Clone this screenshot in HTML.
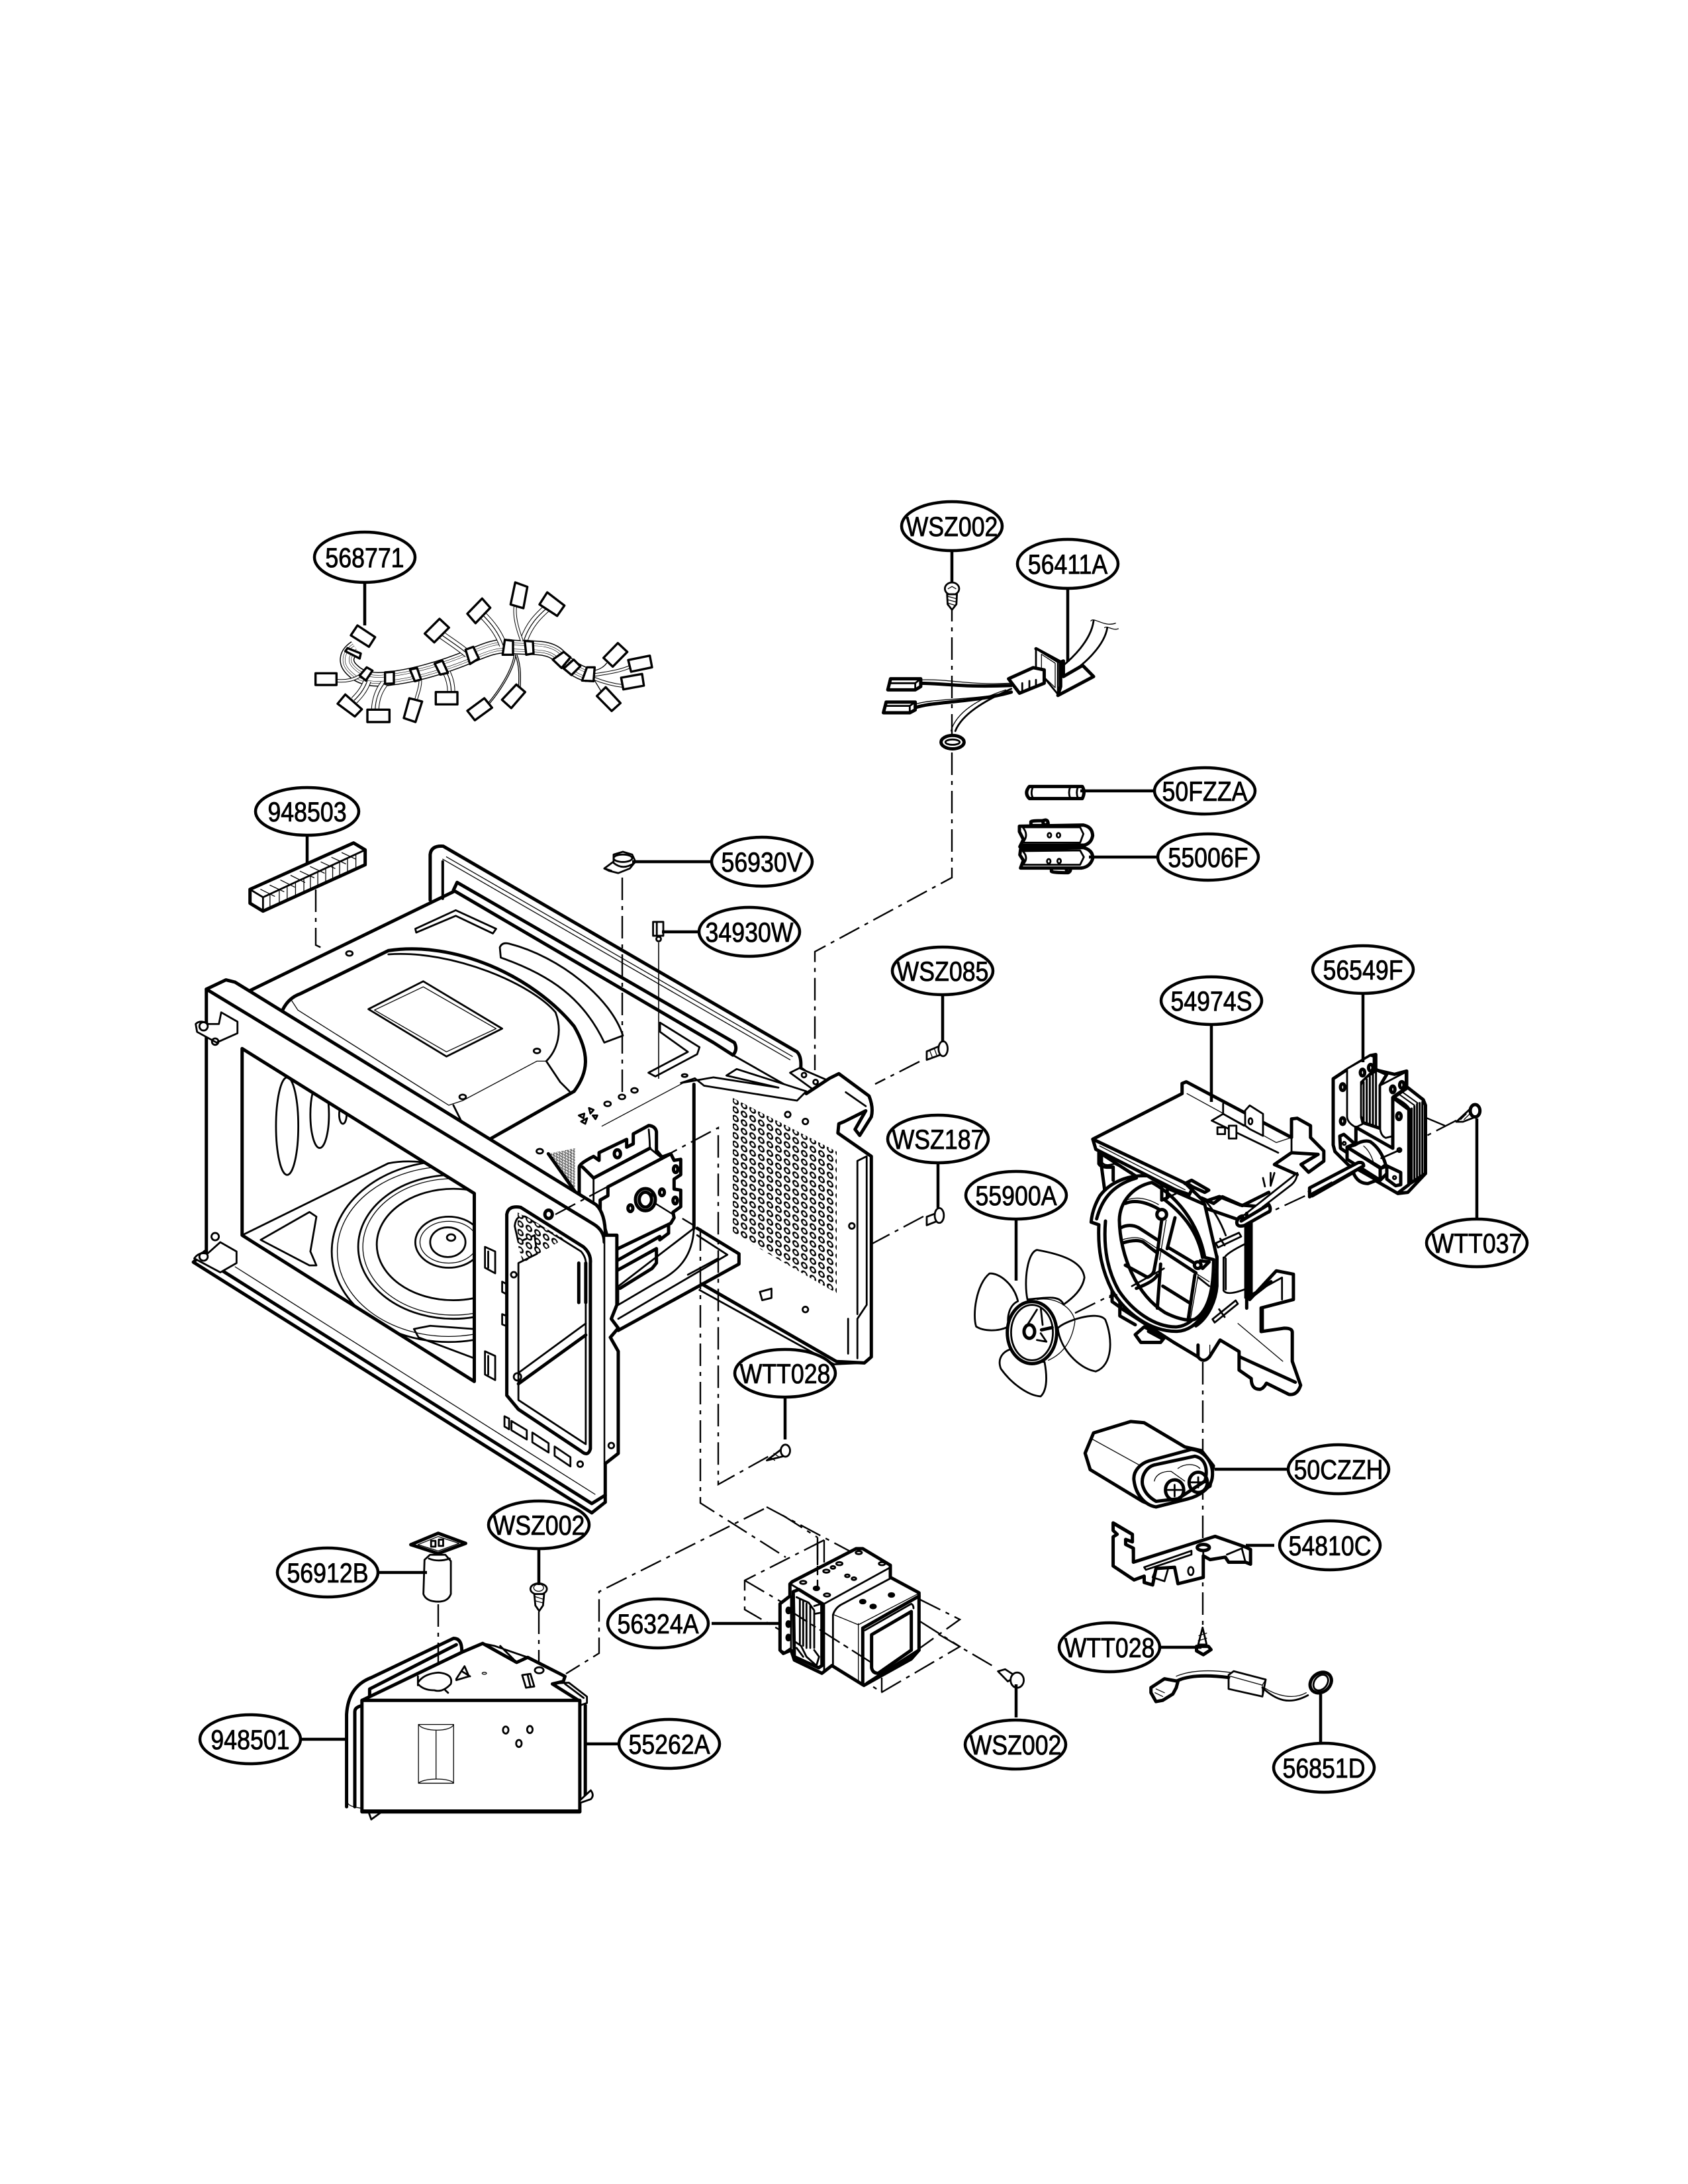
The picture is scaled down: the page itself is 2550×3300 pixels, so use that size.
<!DOCTYPE html>
<html><head><meta charset="utf-8"><style>
html,body{margin:0;padding:0;background:#fff}
svg{display:block}
svg *{vector-effect:non-scaling-stroke}
g.d{fill:none;stroke:#000;stroke-width:4;stroke-linejoin:round;stroke-linecap:round}
.m{stroke-width:2.8}.n{stroke-width:1.3}.h{stroke-width:5}
.w{fill:#fff}.b{fill:#000}
.c{fill:none;stroke:#000;stroke-width:2.4;stroke-dasharray:34 9 6 9}
.lb ellipse{fill:#fff;stroke:#000;stroke-width:4.5}
.lb path{fill:none;stroke:#000;stroke-width:4.5}
text{font:42px "Liberation Sans",sans-serif;fill:#000;stroke:#000;stroke-width:.8;text-anchor:middle;transform-box:fill-box;transform-origin:center;transform:scaleX(.85)}
</style></head><body>
<svg xmlns="http://www.w3.org/2000/svg" width="2550" height="3300" viewBox="0 0 2550 3300">
<defs>
<pattern id="p" width="13" height="13" patternUnits="userSpaceOnUse" patternTransform="skewY(27)"><circle cx="6" cy="6" r="3.8" fill="#fff" stroke="#000" stroke-width="2.4"/></pattern>
<clipPath id="win"><path d="M165,548L665,860V1265L165,950Z"/></clipPath>
</defs>
<rect width="2550" height="3300" fill="#fff"/>

<!-- CHASSIS back -->
<g class="d" transform="translate(250,1200) scale(.7015)">
<path class="h" d="M570,228V130Q572,110 598,112L1360,555Q1370,565 1368,590L1395,610"/>
<path class="n" d="M597,140L1345,572M605,135L1350,565"/>
<path d="M597,145V225"/>
<path class="h" d="M620,207L628,190L1225,535Q1233,550 1222,562L1180,535L620,207"/>
<path class="m" d="M1222,562L1345,632"/>
<path class="h" d="M178,425L620,210"/>
<path class="m w" d="M1345,600L1365,590L1430,618L1400,640Z"/>
<circle class="m" cx="1375" cy="605" r="5"/><circle class="m" cx="1400" cy="620" r="5"/>
<path class="m" d="M538,290L625,250L712,290L705,300L625,262L540,298Z"/>
<path class="h" d="M250,470Q262,440 290,430L480,337C620,315 790,390 880,500C915,560 910,600 880,640L695,745"/>
<path class="n" d="M272,445L285,465L610,670L640,660L800,575L820,575"/>
<path class="m" d="M480,345C620,335 790,410 840,470C855,510 845,550 820,575L850,620L870,640M620,670L640,710"/>
<path class="m" d="M437,463L555,403L725,505L605,565Z"/><path class="n" d="M450,465L555,415L712,505L605,555Z"/>
<path class="m w" d="M720,330Q725,318 740,322C850,350 960,440 985,520L945,535C900,440 830,390 722,352Z"/>
<path class="m" d="M1040,600L1125,555L1065,512V492L1150,545L1145,560L1055,608Z"/>
<ellipse class="m" cx="396" cy="343" rx="7" ry="5"/><ellipse class="m" cx="800" cy="553" rx="7" ry="5"/><ellipse class="m" cx="640" cy="652" rx="7" ry="5"/>
<ellipse class="m" cx="983" cy="652" rx="7" ry="5"/><ellipse class="m" cx="1010" cy="638" rx="7" ry="5"/><ellipse class="m" cx="952" cy="667" rx="7" ry="5"/><ellipse class="m" cx="806" cy="769" rx="7" ry="5"/><ellipse class="m" cx="1118" cy="606" rx="6" ry="3"/>
<path class="m" d="M890,692L902,688L900,698ZM912,676L922,680L915,688ZM920,692L930,692L926,700ZM895,705L908,698L904,710Z"/>
<path fill="#fff" stroke="none" d="M1140,625L1380,645L1430,612L1450,602L1515,650Q1525,675 1520,695L1495,735L1485,722L1508,682L1450,705L1448,730L1520,780V1212L1505,1225L1445,1222L1155,1055L1138,1000Z"/>
<path class="h" d="M1380,645L1430,612L1450,602L1515,650Q1525,675 1520,695L1495,735L1485,722L1508,682L1462,705L1450,710L1448,730L1520,780V1212L1505,1225L1445,1222"/>
<path class="m" d="M1465,642L1508,672M1490,790L1510,780V1100L1490,1130V1215M1490,790V1120M1470,1130V1205"/>
<path class="m w" d="M1110,622L1140,612L1160,628L1360,660L1380,640L1230,592L1208,606L1320,632L1180,610Z"/>
<path class="n" d="M1115,622L940,715"/>
<path class="h" d="M1138,625V935"/>
<path class="w m" d="M1138,935C1135,1000 1100,1030 1060,1050L975,1100V1060L1138,935"/>
<path class="h" d="M1145,935L1235,990V1012L975,1155"/>
<path class="m" d="M1145,950L1210,992L975,1130M1125,1035L1190,1000"/>
<path class="h" d="M1155,1055L1445,1222"/><path class="m" d="M1150,1068L1440,1228L1505,1225"/>
<path class="m w" d="M1280,1072L1305,1065V1085L1285,1090Z"/>
<circle class="m" cx="1340" cy="690" r="6"/><circle class="m" cx="1378" cy="705" r="6"/><circle class="m" cx="1478" cy="930" r="6"/><circle class="m" cx="1378" cy="1110" r="6"/>
</g>
<path fill="url(#p)" stroke="none" d="M1107,1659L1264,1740V1954L1107,1863Z"/>

<!-- MOTOR MOUNT -->
<g class="d" transform="translate(800,1660) scale(.33333)">
<path fill="url(#p)" stroke="none" d="M85,250L205,225V420Z"/>
<path class="h" d="M85,250L205,420"/>
<path class="h w" d="M225,450V310Q225,295 290,262L315,280V245L440,185V220L470,205V160L540,122Q570,125 575,150V235L600,265L640,250V500L320,520L225,450Z"/>
<path class="h" d="M240,310L290,360L545,225"/><path class="m" d="M540,140Q545,190 545,225L600,270M290,360V490M225,310L240,310"/>
<ellipse class="h" cx="398" cy="250" rx="14" ry="18"/>
<path class="h" d="M395,735L590,625M395,780L575,680V745L555,770L410,860M630,575V610L590,640"/>
<path class="h w" d="M320,510V460L355,440V400L640,250L655,280L685,275V345L655,365V410L685,415V490L650,515L655,540L640,565L390,685L395,620L355,635Q340,580 320,520Z"/>
<ellipse class="h w" cx="525" cy="458" rx="45" ry="50"/><ellipse class="h" cx="525" cy="458" rx="28" ry="34"/><path class="m" d="M555,430Q560,470 530,490"/>
<ellipse class="h" cx="457" cy="497" rx="11" ry="15"/><ellipse class="h" cx="600" cy="425" rx="11" ry="15"/><ellipse class="h" cx="662" cy="320" rx="10" ry="15"/><ellipse class="h" cx="660" cy="462" rx="10" ry="15"/>
<path class="m" d="M440,355L510,320M400,375L415,368"/>
<path class="c" d="M570,475L650,525M695,545L745,575"/>
</g>

<!-- FRONT FRAME -->
<g class="d" transform="translate(250,1200) scale(.7015)">
<path fill="#fff" stroke="none" fill-rule="evenodd" d="M88,420L130,400L150,405L927,884Q950,905 947,965V1525L918,1545L60,1008L88,985ZM165,548V950L665,1265V860Z"/>
<path class="h" d="M88,985V420L130,400L150,405L927,884Q950,905 947,965V1525"/>
<path class="h" d="M88,420L922,926Q945,940 945,965"/>
<path class="h" d="M165,548L665,860V1265L165,950Z"/>
<path class="h" d="M60,1008L85,985M60,1008L918,1548L947,1525M120,1025L918,1528L947,1510"/>
<path class="n" d="M150,1018L925,1508"/>
<path class="h w" d="M947,950L972,950V1100L960,1130L975,1150L958,1170L975,1200V1420L947,1442"/>
<path class="m w" d="M65,495Q75,485 92,495L115,495L120,470L155,490V515L110,535L68,512Z"/><circle class="m" cx="82" cy="500" r="9"/><circle class="m" cx="107" cy="533" r="7"/>
<path class="m w" d="M62,1000Q72,985 90,990L118,965L153,985V1010L118,1030Z"/><circle class="m" cx="82" cy="996" r="9"/><circle class="m" cx="107" cy="953" r="8"/>
<g clip-path="url(#win)">
<ellipse class="m" cx="262" cy="715" rx="24" ry="105"/><ellipse class="m" cx="332" cy="690" rx="20" ry="72"/><ellipse class="m" cx="382" cy="690" rx="8" ry="20"/>
<path class="m" d="M165,950L480,795Q530,785 600,800"/>
<path class="m" d="M205,960L310,900L325,910L312,985L325,1015L310,1015Z"/>
<ellipse class="m" cx="610" cy="985" rx="252" ry="195"/><ellipse class="n" cx="610" cy="985" rx="240" ry="183"/>
<ellipse class="m" cx="620" cy="975" rx="205" ry="155"/><ellipse class="n" cx="620" cy="975" rx="195" ry="147"/>
<ellipse class="m" cx="620" cy="970" rx="165" ry="120"/><ellipse class="m" cx="610" cy="965" rx="72" ry="55"/><ellipse class="n" cx="610" cy="965" rx="62" ry="45"/><ellipse class="m" cx="608" cy="965" rx="38" ry="32"/><ellipse class="m" cx="615" cy="955" rx="9" ry="7"/>
<path class="m" d="M535,1152L570,1145L665,1152V1215L545,1170Z"/>
</g>
<path class="m" d="M688,975L710,985V1032L688,1020ZM695,985V1020"/>
<path class="m" d="M688,1200L710,1210V1262L688,1250ZM695,1210V1250"/>
<path class="m" d="M725,1050L740,1058V1080L725,1072ZM725,1120L745,1128V1150L725,1142Z"/>
<path class="h w" d="M735,905Q738,885 765,890L900,975Q917,990 915,1010V1410Q910,1428 895,1415L760,1325L735,1295Z"/>
<path class="m" d="M752,930Q755,905 775,910L895,985Q908,1000 905,1020V1400L760,1305V1010L800,990L795,950L760,965Z"/>
<path class="h" d="M760,1270L905,1165"/><path class="m" d="M762,1245L905,1140"/>
<path class="h" d="M890,1010V1095M905,1010V1095"/>
<path class="m" d="M730,1340V1362L740,1368V1345ZM745,1350L778,1370V1390L745,1370ZM790,1375L825,1398V1418L790,1396ZM838,1405L872,1428V1448L838,1425Z"/>
<circle class="m" cx="750" cy="1035" r="6"/><circle class="m" cx="758" cy="1255" r="8"/><circle class="m" cx="893" cy="1443" r="6"/><circle class="m" cx="960" cy="1403" r="6"/><ellipse class="h" cx="825" cy="905" rx="8" ry="9"/>
</g>
<path fill="url(#p)" stroke="none" d="M782,1832L852,1872L790,1908L782,1880Z"/>

<!-- CONNECTORS -->
<path class="c" d="M477,1344V1428L492,1435"/>
<path class="c" d="M940,1326V1656"/>
<path class="c" style="stroke-dasharray:none;stroke-width:1.6" d="M995,1424V1630"/>
<path class="c" d="M1438,905V1326L1231,1438V1617"/>
<path class="c" d="M1389,1604L1322,1638"/>
<path class="c" d="M1395,1838L1316,1880"/>
<path class="c" d="M839,1835L1085,1704V2243L1162,2200"/>
<path class="c" d="M1058,1856V2271L1187,2353"/>
<path class="c" d="M1154,2280L905,2405V2498L855,2529"/>
<path class="c" d="M1158,2277L1286,2345"/>
<path class="c" d="M1245,2327L1125,2388V2432L1187,2468M1125,2388L1183,2422M1245,2327V2365M1235,2323V2400M1183,2290L1235,2323"/>
<path class="c" d="M1390,2417L1450,2447L1390,2490M1390,2450L1450,2488L1332,2557L1310,2543M1332,2535V2557"/>
<path class="c" d="M1240,2463L1320,2518M1419,2470L1506,2521"/>
<path class="c" d="M662,2424V2533"/>
<path class="c" d="M814,2435V2552L851,2533"/>
<path class="c" d="M1817,2058V2456"/>
<path class="c" d="M1624,1984L1767,1913"/>
<path class="c" d="M1888,1846L1980,1803"/>
<path class="c" d="M2200,1693L2095,1747"/>
<path class="c" d="M2152,1688L2183,1701"/>

<g class="d" transform="translate(250,1200) scale(.7015)">
<path class="m w" d="M182,205L405,105L430,120V152L210,252L182,235Z"/><path class="m" d="M182,205L210,222L430,120M210,222V252"/>
<path class="n" d="M225,215V245M245,206V236M262,198V228M280,190V220M298,182V212M312,176V206M328,168V198M345,160V190M360,153V183M375,146V176M392,138V168M410,130V160M205,205L235,220M225,196L255,210M248,185L278,200M270,175L300,190M290,166L320,180M312,156L342,170M335,146L365,160M358,136L388,150M380,126L410,140"/>
<path class="h" d="M182,205V235L210,252L430,152V120L405,105Z"/>
<path class="m w" d="M945,160L965,145V130L985,124L1005,130L1012,145L1000,160L975,170L955,165Z"/><ellipse class="m" cx="985" cy="138" rx="20" ry="8"/><path class="m" d="M965,148Q985,165 1010,148M945,160L960,165"/>
<path class="m w" d="M1050,275L1072,275V305L1050,305Z"/><path class="m" d="M1058,275V305"/><circle class="m" cx="1062" cy="312" r="5"/>
<path class="m w" d="M1295,1435L1325,1412L1335,1425Z"/><path class="n" d="M1302,1428L1312,1435M1310,1420L1322,1428"/><ellipse class="m w" cx="1335" cy="1414" rx="10" ry="13"/>
</g>

<!-- HARNESS -->
<g class="d" transform="translate(480,900) scale(.33333)" style="stroke-linecap:butt">
<path style="stroke-width:22" d="M170,235C125,265 120,305 160,340C200,380 260,385 330,375C420,365 560,330 690,275C760,245 820,220 880,232C960,240 1040,225 1090,270C1130,310 1170,345 1225,360"/>
<path style="stroke-width:19;stroke:#fff" d="M170,235C125,265 120,305 160,340C200,380 260,385 330,375C420,365 560,330 690,275C760,245 820,220 880,232C960,240 1040,225 1090,270C1130,310 1170,345 1225,360"/>
<path style="stroke-width:13" d="M170,235C125,265 120,305 160,340C200,380 260,385 330,375C420,365 560,330 690,275C760,245 820,220 880,232C960,240 1040,225 1090,270C1130,310 1170,345 1225,360"/>
<path style="stroke-width:11.8;stroke:#fff" d="M170,235C125,265 120,305 160,340C200,380 260,385 330,375C420,365 560,330 690,275C760,245 820,220 880,232C960,240 1040,225 1090,270C1130,310 1170,345 1225,360"/>
<path style="stroke-width:6.6" d="M170,235C125,265 120,305 160,340C200,380 260,385 330,375C420,365 560,330 690,275C760,245 820,220 880,232C960,240 1040,225 1090,270C1130,310 1170,345 1225,360"/>
<path style="stroke-width:5.4;stroke:#fff" d="M170,235C125,265 120,305 160,340C200,380 260,385 330,375C420,365 560,330 690,275C760,245 820,220 880,232C960,240 1040,225 1090,270C1130,310 1170,345 1225,360"/>
<g style="stroke-width:12"><path d="M225,385C210,430 180,460 165,475M300,400C270,440 262,480 260,517M585,350C600,380 605,410 605,437M680,265C640,230 590,200 550,170M840,225C820,170 790,130 745,85M935,200C960,130 1000,90 1040,55"/></g>
<g style="stroke-width:10;stroke:#fff"><path d="M225,385C210,430 180,460 165,475M300,400C270,440 262,480 260,517M585,350C600,380 605,410 605,437M680,265C640,230 590,200 550,170M840,225C820,170 790,130 745,85M935,200C960,130 1000,90 1040,55"/></g>
<g style="stroke-width:1.2"><path d="M225,385C210,430 180,460 165,475M300,400C270,440 262,480 260,517M585,350C600,380 605,410 605,437M680,265C640,230 590,200 550,170M840,225C820,170 790,130 745,85M935,200C960,130 1000,90 1040,55"/></g>
<g style="stroke-width:5"><path d="M465,385C465,420 450,450 445,475M925,205C905,150 890,100 895,50M85,385C130,390 170,380 195,360M1250,360C1320,350 1380,340 1420,320M1250,375C1300,395 1340,405 1385,410"/></g>
<g style="stroke-width:3;stroke:#fff"><path d="M465,385C465,420 450,450 445,475M925,205C905,150 890,100 895,50M85,385C130,390 170,380 195,360M1250,360C1320,350 1380,340 1420,320M1250,375C1300,395 1340,405 1385,410"/></g>
<path class="n" d="M890,268C880,340 820,430 770,490M898,268C888,340 825,435 778,490M895,268C915,320 912,370 910,420M903,268C922,320 920,370 918,415M1250,340C1280,335 1300,320 1310,305M1255,385L1285,435"/>
<path class="m w" style="stroke-width:3.4" d="M135,238L195,262L190,285L125,252ZM222,325L248,340L218,385L190,362ZM305,348L345,345V398L305,400ZM418,335L450,328L468,380L440,388ZM530,308L565,295L590,350L555,358ZM670,245L705,232L730,285L690,310ZM848,200L885,205V268H838ZM938,205L975,208L978,262L945,268ZM1065,290L1115,255L1145,280L1105,328ZM1115,330L1160,290L1190,320L1150,360ZM1220,325L1255,325L1250,388L1198,385Z"/>
<path class="m w" style="stroke-width:3.4" d="M150,180L180,135L260,188L232,232ZM-10,352H85V405H-10ZM90,490L125,448L200,515L168,548ZM225,517H325V573H225ZM415,465L473,480L443,573L390,555ZM535,437H633V493H535ZM485,172L552,105L595,145L528,212ZM678,82L745,13L782,55L715,125ZM678,522L755,465L790,508L712,565ZM835,472L900,403L940,437L877,510ZM1295,282L1360,215L1403,255L1337,322ZM1407,292L1505,272L1515,325L1420,345ZM1375,372L1470,355L1478,408L1385,425ZM1265,455L1305,415L1372,487L1332,523ZM874,40L932,57L950,-40L895,-60ZM1005,40L1085,92L1118,45L1040,-15Z"/>
</g>

<!-- 56411A etc -->
<g class="d" transform="translate(450,740) scale(.829,.336)">
<ellipse class="m w" cx="1192" cy="445" rx="13" ry="28"/><path class="n" d="M1185,445L1192,435L1199,445"/>
<path class="m w" d="M1183,470H1201L1200,515L1192,540L1184,515Z"/><path class="n" d="M1185,480L1200,490M1185,495L1200,505M1185,510L1198,520"/>
<path class="m" d="M1450,590C1445,680 1410,760 1390,800M1475,620C1470,700 1430,800 1395,840"/>
<path class="n" d="M1445,590C1450,570 1470,620 1490,600M1470,620C1475,610 1485,635 1495,625"/>
<path class="h w" d="M1345,715L1390,775V885L1385,925L1450,840L1430,790L1395,840V770L1390,775"/>
<path class="m w" d="M1345,715V800L1385,920V775Z"/><path class="n" d="M1355,740L1380,780V890L1355,830Z"/>
<path class="h w" d="M1295,850L1340,800L1360,810V870L1315,915Z"/>
<path class="m" d="M1320,870V910M1333,860V900M1345,855V885"/>
<path class="h" d="M1130,870C1180,870 1210,890 1300,880"/><path class="n" d="M1135,855C1190,850 1220,880 1300,870"/>
<path class="h" d="M1120,985C1150,950 1230,960 1300,910"/><path class="n" d="M1125,965C1150,940 1230,945 1290,915"/>
<path class="m" d="M1300,895C1250,950 1210,1010 1198,1085"/><path class="n" d="M1290,900C1240,940 1200,1000 1190,1085"/>
<path class="h w" d="M1080,850H1135V885L1125,900H1075Z"/><path class="m" d="M1080,870H1125V900M1125,870L1135,850"/>
<path class="h w" d="M1072,955H1125V990L1115,1003H1067Z"/><path class="m" d="M1072,972H1115V1003M1115,972L1125,955"/>
<ellipse class="h w" cx="1193" cy="1135" rx="21" ry="30"/><ellipse class="m" cx="1193" cy="1135" rx="13" ry="12"/>
</g>

<!-- FUSE + HOLDER -->
<g class="d" transform="translate(1500,1160) scale(.33333)">
<path class="h w" d="M165,85H405Q420,110 405,140H165Q140,115 165,85Z"/>
<path class="m" d="M180,90Q170,115 180,135M350,88Q340,112 350,138M385,88Q375,112 385,138"/>
<path class="h w" d="M172,262V245Q175,240 225,240Q240,235 250,250L250,262Z"/><circle class="h w" cx="238" cy="248" r="11"/>
<path class="h w" d="M265,455V470Q270,476 340,476Q355,470 350,455Z"/><circle class="h w" cx="342" cy="462" r="9"/>
<path class="h w" d="M120,265L410,260Q450,268 452,308Q445,345 410,352L125,352L138,325L120,290Z"/>
<path class="h w" d="M125,372L410,362Q455,375 452,412Q440,450 400,455H125L138,420L122,395Z"/>
<path style="stroke-width:7" d="M125,358L410,354"/>
<path class="m" d="M135,270H395L410,300L395,340H135Q165,305 135,270ZM135,378L395,375L412,405L395,440H135Q165,410 135,378Z"/>
<ellipse class="m" cx="256" cy="306" rx="8" ry="10"/><ellipse class="m" cx="297" cy="306" rx="8" ry="10"/><ellipse class="m" cx="253" cy="424" rx="8" ry="10"/><ellipse class="m" cx="300" cy="423" rx="8" ry="10"/>
</g>

<!-- FAN BRACKET / FAN -->
<g class="d" transform="translate(1400,1400) scale(.574,.51)">
<path class="m w" d="M0,370L38,352L48,375L0,395Z"/><path class="n" d="M8,368L14,385M20,362L26,380"/><ellipse class="m w" cx="43" cy="362" rx="12" ry="22"/>
<path class="m w" d="M0,860L28,848L38,868L0,885Z"/><ellipse class="m w" cx="33" cy="856" rx="12" ry="22"/>
<path class="h w" d="M850,880V1105L920,1020L965,1030V1105L880,1130V1200L941,1190Q962,1190 962,1202V1288L984,1359Q975,1390 953,1386L894,1353Q885,1371 876,1371Q854,1371 854,1339L822,1314V1259L772,1225L744,1275Q728,1295 714,1275L650,1232L510,1130L455,670L620,790Z"/>
<path class="m" d="M838,885V1100L935,1040V1105M885,1135V1200"/>
<path class="n" d="M819,1176L937,1288"/>
<path class="h" d="M824,1275L970,1350"/>
<path class="h" d="M714,1240V1275"/><path class="n" d="M745,1240V1272"/>
<path class="h w" d="M437,630L672,495V465L683,460L960,625V570L975,568L1010,590V625L1045,665V695L1005,728L985,705L1030,675L960,670L915,705L975,735L930,780L880,830L825,825L770,800L730,815L680,760L437,630Z"/>
<path class="h" d="M437,630L445,660L690,800"/>
<path class="n" d="M685,495L920,640L960,625M455,650L680,780"/>
<path class="m" d="M780,525V555L750,575L925,670M780,555L835,590M960,625V665"/>
<path class="m w" d="M838,545L850,530L885,555V620L850,600L838,590Z"/><ellipse class="m" cx="852" cy="577" rx="5" ry="9"/>
<path class="m w" d="M765,595H785V615H765ZM795,590H815V628H795Z"/>
<path class="m" d="M885,745L890,770M905,730V768L915,730"/>
<path class="m w" d="M835,855L975,730Q975,750 960,765L885,830L840,875Q820,890 815,870Q820,855 835,855Z"/>
<path class="m w" d="M265,1105C255,1050 265,965 290,958C350,970 410,990 415,1040C410,1075 385,1100 360,1120C350,1090 310,1100 265,1105Z"/>
<path class="m w" d="M240,1110C230,1060 190,1025 165,1028C130,1060 120,1150 130,1185C150,1200 190,1200 215,1185C210,1150 220,1120 240,1110Z"/>
<path class="m w" d="M345,1190C360,1170 450,1135 470,1165C490,1220 490,1300 445,1318C400,1310 350,1250 345,1190Z"/>
<path class="m w" d="M230,1250C200,1255 185,1280 195,1310C220,1350 265,1390 300,1392C320,1370 315,1320 310,1290C285,1290 250,1280 230,1250Z"/>
<ellipse class="h w" cx="277" cy="1203" rx="65" ry="92"/><ellipse class="m" cx="277" cy="1203" rx="55" ry="82"/>
<path class="n" d="M290,1105C340,1095 385,1130 390,1170C385,1210 370,1260 320,1285"/>
<ellipse class="h" cx="270" cy="1200" rx="14" ry="20"/><path class="h" d="M302,1195L330,1188"/><path class="m" d="M290,1135L265,1180M300,1130L305,1180M290,1225L315,1230L300,1205"/>
<path class="m w" d="M1005,785L1130,700L1148,705L1140,720L1015,800Z"/>
</g>

<!-- RING -->
<g class="d" transform="translate(1620,1730) scale(.33333)">
<path class="h w" d="M85,350Q90,290 125,230C170,170 250,135 340,140L440,200L600,270L655,510C660,720 570,845 470,845C350,845 240,760 180,660C130,560 115,470 120,362Z"/>
<path class="h" d="M120,35V85Q130,105 185,100V160"/>
<path class="m" d="M135,40V80Q150,100 190,85L270,125"/>
<path class="h" d="M110,335C130,260 170,185 290,150M150,345C140,470 160,570 210,660C270,750 370,825 470,825C560,820 640,700 635,530"/>
<path class="h w" d="M360,170C270,190 215,260 213,340C215,500 290,680 420,760C480,790 530,800 555,790C620,750 640,650 640,520L600,510C570,350 470,230 360,170Z"/>
<path class="h" d="M420,250C510,320 570,400 590,510"/>
<path class="h" d="M405,185V250L430,240M430,205V240"/><path class="m" d="M430,240L470,220"/>
<path class="h" d="M240,265Q300,240 390,290M220,375Q260,355 300,375L385,430M225,445Q290,425 320,440L385,490"/>
<path class="n" d="M245,250Q310,225 390,270M225,430Q290,410 325,430L400,480"/>
<path class="h" d="M405,340L385,490L370,570Q365,590 340,600M465,330L430,470M435,465L560,540M400,540L385,740M410,640L530,715M240,545L340,600M555,590L525,790M400,475L560,580M290,650Q370,620 385,590"/>
<path class="n" d="M425,340L395,520M400,480L620,620M570,590L535,790M300,640Q380,610 395,580"/>
<path class="m" d="M415,560L270,640M200,680L170,690"/>
<path class="m" d="M570,600L620,640"/>
<circle class="h w" cx="405" cy="315" r="22"/>
<circle class="h w" cx="568" cy="545" r="15"/><path class="h" d="M580,525L620,530L590,560"/>
<path class="m" d="M590,240C650,300 680,370 695,410"/>
<path class="h" d="M510,175L540,160L618,205L600,215L545,190L530,180ZM545,195L530,225L430,190"/>
<path class="h" d="M585,240L640,265L680,235L770,275L890,215"/>
<path class="m w" d="M650,445L755,398L765,415L660,465Z"/><path class="m" d="M670,425L690,455"/>
<path class="m w" d="M635,790L740,705L750,720L645,805Z"/><path class="m" d="M665,745L690,780"/>
<path class="m" d="M690,510Q700,490 780,450M685,510V660Q700,685 780,655M695,515V655"/>
<path class="h" d="M790,310V740M810,350V690L900,620"/>
<path class="h" d="M655,505V640C650,700 620,780 560,820"/>
<path class="h w" d="M285,860L325,825L420,870L400,895L310,895Z"/><path class="h" d="M345,845L410,880"/>
<path class="h" d="M180,660V710L215,735V775L285,815"/>
<path class="h w" d="M765,345L890,270Q900,285 895,300L780,365Q745,375 745,350Q750,325 775,330"/>
</g>

<!-- TRANSFORMER -->
<g class="d" transform="translate(1980,1560) scale(.33333)">
<path class="h w" d="M102,210L170,165L270,105L295,100V170L380,190L435,175V250L510,305L520,330V640L440,725L395,730L170,600L110,540L102,510Z"/>
<path class="h w" d="M225,240Q230,215 260,195L300,170L345,190L315,240V435L240,410L225,380Z"/>
<path d="M240,225V405M254,212V412M268,200V418M282,190V424M296,180V430" style="stroke-width:3"/>
<path class="m w" d="M165,165L270,105L285,110V170L228,225V385L235,415L205,430Q165,410 165,380Z"/>
<path class="m w" d="M315,240L430,180V250L372,290V470L340,478Q320,470 315,440Z"/>
<path class="h w" d="M375,295L440,250L510,305L520,330V640L450,685V360Q445,330 375,295Z"/>
<path d="M458,345V670M470,335V665M482,325V655M494,320V650M506,315V645" style="stroke-width:3"/>
<path d="M385,295L450,345M400,280L470,330M415,270L485,320" style="stroke-width:2"/>
<path class="h" d="M372,295V525L205,430V500M372,295L445,350V690L395,728"/>
<ellipse class="h" cx="235" cy="182" rx="10" ry="15"/><ellipse class="h" cx="272" cy="160" rx="10" ry="15"/><ellipse class="h" cx="145" cy="248" rx="10" ry="15"/><ellipse class="h" cx="145" cy="402" rx="10" ry="15"/><ellipse class="h" cx="372" cy="258" rx="10" ry="15"/><ellipse class="h" cx="413" cy="238" rx="10" ry="15"/><ellipse class="h" cx="400" cy="380" rx="10" ry="15"/>
<path class="h w" d="M132,470L150,462L200,505L165,520V545L135,525Z"/><circle class="m" cx="152" cy="503" r="7"/>
<path class="h w" d="M195,640Q215,685 260,685L300,670L195,610Z"/>
<path class="h w" d="M165,520L200,510Q240,485 270,495Q320,530 340,600L320,615Z"/><path class="n" d="M240,515Q270,540 285,590"/>
<path class="h w" d="M165,520V575L315,670V615ZM315,670L345,640V605L320,615"/>
<path class="h w" d="M345,605L408,635V690L385,695L345,665Z"/><circle class="m" cx="380" cy="658" r="7"/>
<path class="h w" d="M-5,705L215,590Q240,585 240,605L-5,745Z"/><path class="m" d="M-5,735L95,680"/>
<path class="m" d="M320,570L410,530"/><circle class="m" cx="402" cy="533" r="9"/>
<path class="m w" d="M660,405L735,335L755,380L690,405Z"/><path class="n" d="M680,395L705,370M695,395L725,365M670,400L695,375"/>
<ellipse class="h w" cx="745" cy="355" rx="22" ry="28"/>
</g>

<!-- LOWER RIGHT -->
<g class="d" transform="translate(1550,2100) scale(.51,.383)">
<path class="h w" d="M200,170L310,125L350,130L470,225L520,240L555,300L545,380L480,430L385,462L345,440L190,315L175,250Z"/>
<path class="n" d="M190,190L340,300"/>
<path class="h w" d="M320,360C315,320 340,290 365,280L490,235C530,240 555,290 552,340C550,390 510,420 480,430L385,462C350,455 325,410 320,360Z"/>
<path class="h" d="M345,375C340,335 360,300 385,295L500,262C530,270 540,310 530,360L450,430L385,440C360,420 350,400 345,375Z"/>
<path class="n" d="M380,360C385,330 410,320 430,322L470,360M450,310C470,290 500,290 515,310"/>
<ellipse class="h" cx="440" cy="395" rx="27" ry="40"/><ellipse class="h" cx="510" cy="365" rx="27" ry="40"/>
<path class="m" d="M420,395L460,395M440,375V420M490,365H530M510,345V385"/>
<path class="h w" d="M258,525L315,570V600L295,590V610L318,625V680L560,578L650,620L665,630V688L650,680L600,680L590,660L545,670L525,655V740L450,765L440,700L385,705L375,770L350,760V735L320,750L258,695V580L270,570L258,555Z"/>
<path class="m" d="M265,535L310,570M318,680L315,620M350,700L490,635V650L355,710ZM525,655V620M640,630L650,680M595,650L640,625"/>
<path class="m" d="M385,705L375,740L410,755L420,710"/>
<ellipse class="m" cx="488" cy="715" rx="8" ry="16"/><ellipse class="h w" cx="525" cy="622" rx="18" ry="12"/>
<path class="m w" d="M523,938L510,1005H535Z"/><path class="n" d="M512,970L535,960M510,990L535,980"/>
<path class="h w" d="M505,1012H540L548,1025L525,1045L505,1030Z"/>
<path class="m w" d="M600,1125L615,1110L710,1143L700,1210L600,1180Z"/><path class="n" d="M605,1130L700,1165L710,1143M700,1165V1210"/>
<path class="h" d="M445,1150C480,1125 540,1125 600,1135"/><path class="n" d="M445,1130C490,1105 550,1105 605,1115"/>
<path class="m" d="M700,1175C740,1225 780,1245 835,1205"/><path class="n" d="M705,1175C740,1205 790,1225 830,1195"/>
<path class="h w" d="M370,1175L410,1140L450,1150L445,1175L435,1200L405,1225L385,1230L370,1195Z"/><path class="n" d="M385,1180L410,1195M382,1195L405,1210"/>
<ellipse class="h w" cx="873" cy="1155" rx="30" ry="42" transform="rotate(20 873 1155)"/><ellipse class="m" cx="873" cy="1155" rx="20" ry="32" transform="rotate(20 873 1155)"/>
</g>

<!-- LOWER LEFT -->
<g class="d" transform="translate(250,2200) scale(.829,.3827)">
<path class="m w" d="M472,410L482,390L510,390L520,415V545Q515,575 497,575Q475,575 470,545Z"/><path class="m" d="M480,405Q497,420 518,405"/>
<path class="h w" d="M447,350L497,305L547,345L497,385Z"/><path class="n" d="M460,350L497,318L535,345L497,375Z"/><path class="m" d="M484,335H492V358H484ZM498,330H506V355H498Z"/>
<ellipse class="m w" cx="680" cy="525" rx="15" ry="22"/><ellipse class="n" cx="680" cy="520" rx="9" ry="14"/>
<path class="m w" d="M672,545H690L688,590L681,612L674,590Z"/><path class="n" d="M673,555L688,565M674,572L688,580"/>
<path class="h" d="M330,1385V1020C332,950 345,900 375,875L525,720Q540,720 540,770"/>
<path class="h" d="M345,1385V1010Q345,990 360,985L372,965V920L530,745"/>
<path class="n" d="M332,1370Q335,1385 355,1390"/>
<path class="h w" d="M358,965L540,775L578,740L640,815L660,795L728,870L725,890L705,900L755,968Z"/>
<path class="m" d="M578,740L600,750L660,795M610,750L640,815M705,898L735,895L768,950V975L755,985"/>
<path class="m" d="M728,900L762,955"/>
<path class="h w" d="M358,965H755V1405H358Z"/>
<path class="h" d="M358,1402H755"/>
<path class="h" d="M765,985V1340"/><path class="m w" d="M755,1360L775,1320Q782,1340 775,1355L755,1370Z"/>
<path class="m" d="M370,1405L375,1435L392,1408"/>
<path class="n" d="M461,1060H525V1292H461ZM461,1060C470,1090 520,1090 525,1060M461,1292C470,1270 520,1270 525,1292M493,1085V1275"/>
<ellipse class="m" cx="620" cy="1082" rx="5" ry="14"/><ellipse class="m" cx="664" cy="1080" rx="5" ry="14"/><ellipse class="m" cx="644" cy="1135" rx="5" ry="14"/>
<path class="m" d="M460,895Q470,860 497,855Q525,860 520,900Q505,935 490,925Q470,925 460,900M460,870V905M510,925L515,935"/>
<path class="m" d="M530,880L545,830L553,870L530,885ZM540,850L555,870"/>
<circle class="n" cx="581" cy="858" r="4"/><ellipse class="m" cx="681" cy="846" rx="8" ry="12"/>
<path class="m" d="M650,865L665,860L672,910L657,915ZM660,865L665,910"/>
<path class="m w" d="M1517,850L1530,842L1550,870L1535,890Z"/><ellipse class="m w" cx="1552" cy="885" rx="12" ry="30"/>
</g>

<!-- MAGNETRON -->
<g class="d" transform="translate(1150,2290) scale(.33333)">
<path class="h w" d="M85,400L130,365V310L140,300L430,150H460L585,225V280L715,350V610L680,650L465,770L320,680L275,715L150,655L135,610L100,625L85,610Z"/>
<path class="m" d="M140,315L285,400L585,235M285,400V700M325,680V450Q335,420 360,405L585,285"/>
<path class="n" d="M330,450L440,495L710,355M440,490V750"/>
<path class="h" d="M460,510V760M460,510L715,365M480,760L715,610"/>
<path class="m" d="M470,520L680,400Q690,405 690,420"/>
<path class="h" d="M500,540L680,435V610L530,715Q505,715 500,690Z"/>
<path class="m" d="M85,400V610L105,620L135,600V365"/>
<path class="h w" d="M145,345L170,335L275,400V680L260,690L150,640Z"/>
<path class="m" d="M160,370L215,395L240,430V600M175,380V580M190,390V590M205,400V600M222,410V600M150,570L180,590L205,640L250,680L262,640L240,610M160,600L190,640"/>
<path class="m" d="M240,410L272,400V440L245,445"/>
<ellipse class="h" cx="123" cy="430" rx="6" ry="10"/><ellipse class="h" cx="123" cy="492" rx="6" ry="10"/><ellipse class="h" cx="123" cy="553" rx="6" ry="10"/>
<ellipse class="m" cx="442" cy="168" rx="14" ry="7"/><ellipse class="m" cx="547" cy="218" rx="14" ry="7"/><ellipse class="m" cx="190" cy="303" rx="14" ry="7"/><ellipse class="h" cx="250" cy="330" rx="9" ry="5"/><ellipse class="m" cx="298" cy="360" rx="14" ry="7"/><ellipse class="m" cx="295" cy="252" rx="14" ry="7"/><ellipse class="m" cx="325" cy="235" rx="10" ry="6"/><ellipse class="m" cx="354" cy="218" rx="14" ry="7"/><ellipse class="m" cx="390" cy="273" rx="10" ry="6"/><ellipse class="m" cx="420" cy="286" rx="10" ry="6"/>
<ellipse class="h" cx="460" cy="390" rx="9" ry="5"/><ellipse class="h" cx="507" cy="412" rx="9" ry="5"/><ellipse class="h" cx="590" cy="360" rx="9" ry="5"/>
<path class="c" d="M120,425L520,680"/>
<path class="c" d="M255,120V330"/>
</g>

<!-- LABELS -->
<g class="lb">
<path d="M551,880V945M1438,825V880M1613,880V1000M464,1252V1305"/>
<path d="M955,1302H1075M1000,1408H1060M1186,2105V2175M2059,1498V1605M1830,1545V1665M1535,1840V1935"/>
<path d="M1424,1500V1575M1417,1755V1825M2231,1690V1845"/>
<path d="M1632,1195H1745M1645,1295H1750"/>
<path d="M1835,2220H1950M1882,2335H1925M1745,2489H1815M1995,2560V2635"/>
<path d="M570,2376H645M814,2340V2395M1075,2453H1180M455,2628H523M885,2635H940"/>
<path d="M1535,2545V2595"/>
<ellipse cx="551" cy="842" rx="76" ry="38"/><text x="551" y="857">568771</text>
<ellipse cx="1438" cy="795" rx="76" ry="37"/><text x="1438" y="810">WSZ002</text>
<ellipse cx="1613" cy="852" rx="76" ry="37"/><text x="1613" y="867">56411A</text>
<ellipse cx="1820" cy="1195" rx="76" ry="35"/><text x="1820" y="1210">50FZZA</text>
<ellipse cx="1825" cy="1295" rx="76" ry="35"/><text x="1825" y="1310">55006F</text>
<ellipse cx="464" cy="1226" rx="78" ry="36"/><text x="464" y="1241">948503</text>
<ellipse cx="1151" cy="1302" rx="76" ry="37"/><text x="1151" y="1317">56930V</text>
<ellipse cx="1132" cy="1408" rx="76" ry="37"/><text x="1132" y="1423">34930W</text>
<ellipse cx="1424" cy="1467" rx="76" ry="36"/><text x="1424" y="1482">WSZ085</text>
<ellipse cx="1830" cy="1512" rx="76" ry="36"/><text x="1830" y="1527">54974S</text>
<ellipse cx="2059" cy="1465" rx="76" ry="36"/><text x="2059" y="1480">56549F</text>
<ellipse cx="1417" cy="1721" rx="76" ry="36"/><text x="1417" y="1736">WSZ187</text>
<ellipse cx="1535" cy="1806" rx="76" ry="36"/><text x="1535" y="1821">55900A</text>
<ellipse cx="2231" cy="1878" rx="76" ry="36"/><text x="2231" y="1893">WTT037</text>
<ellipse cx="1186" cy="2075" rx="76" ry="36"/><text x="1186" y="2090">WTT028</text>
<ellipse cx="2022" cy="2220" rx="76" ry="37"/><text x="2022" y="2235">50CZZH</text>
<ellipse cx="2009" cy="2335" rx="76" ry="37"/><text x="2009" y="2350">54810C</text>
<ellipse cx="1676" cy="2489" rx="76" ry="37"/><text x="1676" y="2504">WTT028</text>
<ellipse cx="2000" cy="2671" rx="76" ry="37"/><text x="2000" y="2686">56851D</text>
<ellipse cx="1534" cy="2636" rx="76" ry="37"/><text x="1534" y="2651">WSZ002</text>
<ellipse cx="495" cy="2376" rx="76" ry="37"/><text x="495" y="2391">56912B</text>
<ellipse cx="814" cy="2304" rx="76" ry="36"/><text x="814" y="2319">WSZ002</text>
<ellipse cx="994" cy="2453" rx="76" ry="37"/><text x="994" y="2468">56324A</text>
<ellipse cx="378" cy="2628" rx="76" ry="37"/><text x="378" y="2643">948501</text>
<ellipse cx="1011" cy="2635" rx="76" ry="37"/><text x="1011" y="2650">55262A</text>
</g>
</svg>
</body></html>
